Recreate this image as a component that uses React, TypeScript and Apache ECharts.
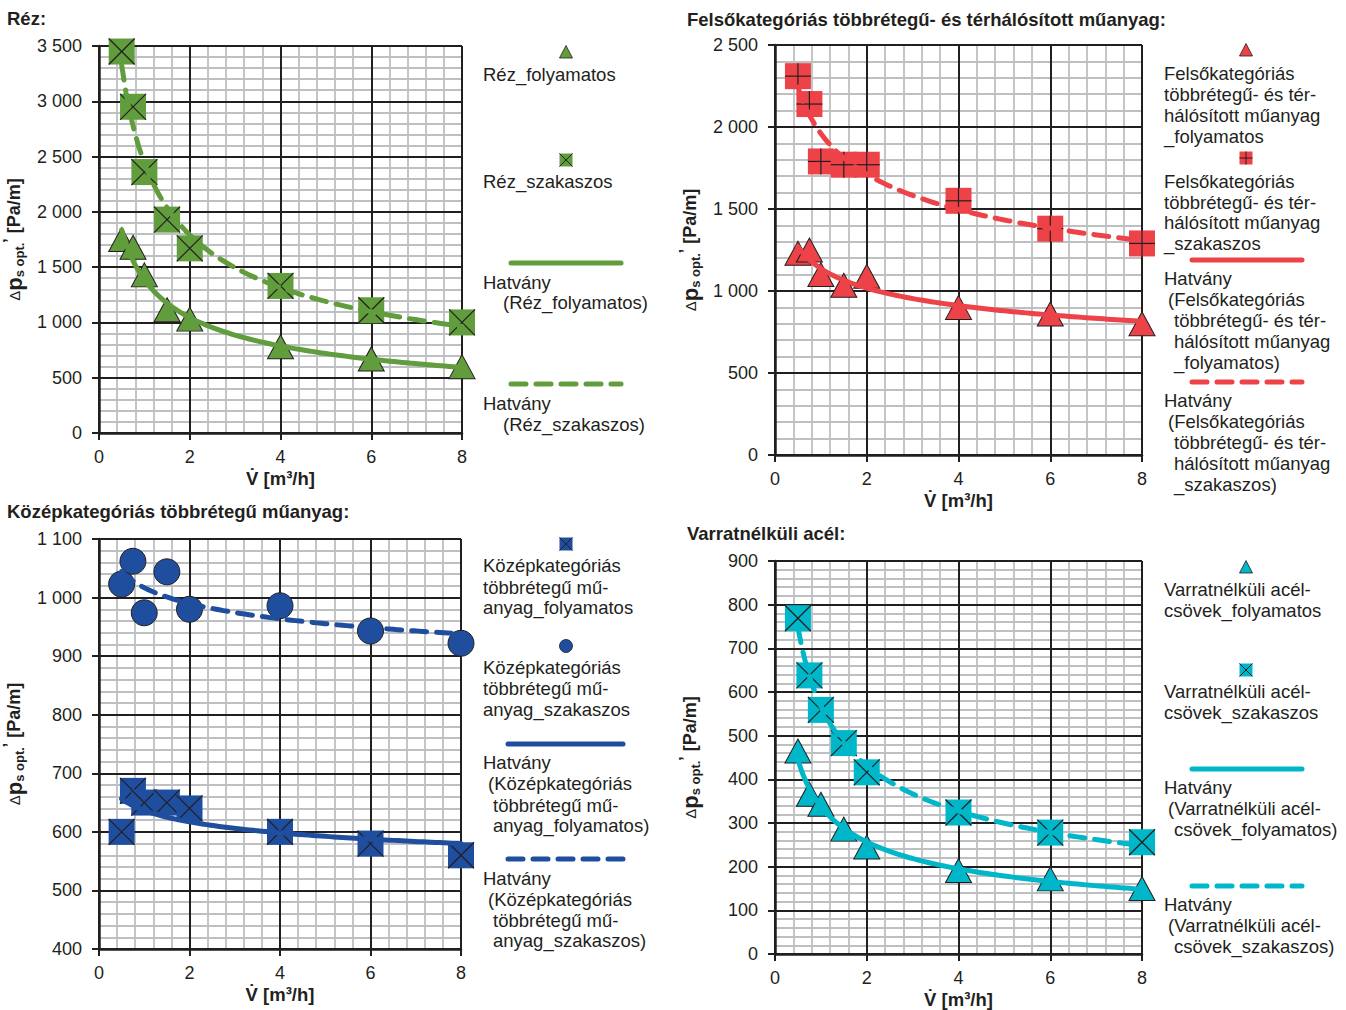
import React, { useEffect, useRef } from 'react';
import * as echarts from 'echarts';

// ---------- data ----------
const X_VALUES = [0.5, 0.75, 1, 1.5, 2, 4, 6, 8];

const rezFolyamatos = [1750, 1680, 1430, 1115, 1030, 780, 670, 600];
const rezSzakaszos = [3450, 2950, 2360, 1930, 1670, 1330, 1110, 1000];
const felsoFolyamatos = [1230, 1250, 1100, 1035, 1090, 900, 860, 800];
const felsoSzakaszos = [2310, 2140, 1790, 1770, 1770, 1550, 1380, 1290];
const kozepFolyamatos = [600, 670, 650, 650, 640, 600, 580, 560];
const kozepSzakaszos = [1023, 1062, 974, 1044, 980, 986, 943, 922];
const acelFolyamatos = [465, 366, 343, 286, 245, 191, 172, 150];
const acelSzakaszos = [769, 638, 559, 483, 416, 324, 278, 256];

const X_TICKS = [0, 2, 4, 6, 8];

// ---------- styles ----------
const DARK = '#231f20';
const MINOR = '#bdbfc1';
const GREEN = '#619c3d';
const RED = '#ee4249';
const BLUE = '#1f4e9f';
const CYAN = '#00b7ca';
const FONT = '"Liberation Sans", Arial, Helvetica, sans-serif';
const DASH = [15, 10];

// Excel-like power trendline (least squares in log-log space)
function powerFit(xs: number[], ys: number[]) {
  const lx = xs.map(Math.log);
  const ly = ys.map(Math.log);
  const mx = lx.reduce((a, b) => a + b, 0) / lx.length;
  const my = ly.reduce((a, b) => a + b, 0) / ly.length;
  let sxy = 0, sxx = 0;
  for (let i = 0; i < lx.length; i++) {
    sxy += (lx[i] - mx) * (ly[i] - my);
    sxx += (lx[i] - mx) * (lx[i] - mx);
  }
  const b = sxy / sxx;
  const a = Math.exp(my - b * mx);
  return { a, b };
}
function trendline(xs: number[], ys: number[]) {
  const { a, b } = powerFit(xs, ys);
  const x0 = xs[0], x1 = xs[xs.length - 1];
  const n = 80;
  const pts: number[][] = [];
  for (let i = 0; i <= n; i++) {
    const x = x0 + ((x1 - x0) * i) / n;
    pts.push([x, a * Math.pow(x, b)]);
  }
  return pts;
}

type Marker = 'triangle' | 'xsquare' | 'plussquare' | 'circle';

interface LegendEntry {
  kind: Marker | 'solid' | 'dashed';
  at: number[]; // icon centre or [x1, x2, y] for lines
  lines: [string, number, number][];
}

interface Panel {
  title: string;
  titlePos: number[];
  color: string;
  grid: { left: number; top: number; width: number; height: number };
  yMin: number;
  yMax: number;
  yInt: number;
  fol: number[];
  sz: number[];
  folName: string;
  szName: string;
  folMarker: Marker;
  szMarker: Marker;
  legend: LegendEntry[];
}

const PANELS: Panel[] = [
  {
    title: 'Réz:',
    titlePos: [7, 18],
    color: GREEN,
    grid: { left: 95, top: 46, width: 367, height: 387 },
    yMin: 0, yMax: 3500, yInt: 500,
    fol: rezFolyamatos, sz: rezSzakaszos,
    folName: 'Réz_folyamatos', szName: 'Réz_szakaszos',
    folMarker: 'triangle', szMarker: 'xsquare',
    legend: [
      { kind: 'triangle', at: [566, 52], lines: [['Réz_folyamatos', 483, 74]] },
      { kind: 'xsquare', at: [566, 160], lines: [['Réz_szakaszos', 483, 181]] },
      { kind: 'solid', at: [511, 621, 263], lines: [['Hatvány', 483, 282], ['(Réz_folyamatos)', 503, 302]] },
      { kind: 'dashed', at: [511, 621, 384], lines: [['Hatvány', 483, 403], ['(Réz_szakaszos)', 503, 424]] },
    ],
  },
  {
    title: 'Felsőkategóriás többrétegű- és térhálósított műanyag:',
    titlePos: [687, 19],
    color: RED,
    grid: { left: 775, top: 45, width: 367, height: 410 },
    yMin: 0, yMax: 2500, yInt: 500,
    fol: felsoFolyamatos, sz: felsoSzakaszos,
    folName: 'Felsőkategóriás többrétegű- és térhálósított műanyag_folyamatos',
    szName: 'Felsőkategóriás többrétegű- és térhálósított műanyag_szakaszos',
    folMarker: 'triangle', szMarker: 'plussquare',
    legend: [
      { kind: 'triangle', at: [1246, 50], lines: [
        ['Felsőkategóriás', 1164, 73], ['többrétegű- és tér-', 1164, 94], ['hálósított műanyag', 1164, 115], ['_folyamatos', 1164, 136]] },
      { kind: 'plussquare', at: [1246, 158], lines: [
        ['Felsőkategóriás', 1164, 181], ['többrétegű- és tér-', 1164, 202], ['hálósított műanyag', 1164, 222], ['_szakaszos', 1164, 243]] },
      { kind: 'solid', at: [1192, 1302, 260], lines: [
        ['Hatvány', 1164, 278], ['(Felsőkategóriás', 1168, 299], ['többrétegű- és tér-', 1174, 320], ['hálósított műanyag', 1174, 341], ['_folyamatos)', 1174, 362]] },
      { kind: 'dashed', at: [1192, 1302, 382], lines: [
        ['Hatvány', 1164, 400], ['(Felsőkategóriás', 1168, 421], ['többrétegű- és tér-', 1174, 442], ['hálósított műanyag', 1174, 463], ['_szakaszos)', 1174, 484]] },
    ],
  },
  {
    title: 'Középkategóriás többrétegű műanyag:',
    titlePos: [7, 511],
    color: BLUE,
    grid: { left: 95, top: 539, width: 366, height: 410 },
    yMin: 400, yMax: 1100, yInt: 100,
    fol: kozepFolyamatos, sz: kozepSzakaszos,
    folName: 'Középkategóriás többrétegű műanyag_folyamatos',
    szName: 'Középkategóriás többrétegű műanyag_szakaszos',
    folMarker: 'xsquare', szMarker: 'circle',
    legend: [
      { kind: 'xsquare', at: [566, 544], lines: [
        ['Középkategóriás', 483, 565], ['többrétegű mű-', 483, 587], ['anyag_folyamatos', 483, 607]] },
      { kind: 'circle', at: [566, 646], lines: [
        ['Középkategóriás', 483, 667], ['többrétegű mű-', 483, 688], ['anyag_szakaszos', 483, 709]] },
      { kind: 'solid', at: [508, 623, 744], lines: [
        ['Hatvány', 483, 762], ['(Középkategóriás', 488, 783], ['többrétegű mű-', 493, 805], ['anyag_folyamatos)', 493, 825]] },
      { kind: 'dashed', at: [508, 623, 859], lines: [
        ['Hatvány', 483, 878], ['(Középkategóriás', 488, 899], ['többrétegű mű-', 493, 920], ['anyag_szakaszos)', 493, 940]] },
    ],
  },
  {
    title: 'Varratnélküli acél:',
    titlePos: [687, 533],
    color: CYAN,
    grid: { left: 775, top: 561, width: 367, height: 394 },
    yMin: 0, yMax: 900, yInt: 100,
    fol: acelFolyamatos, sz: acelSzakaszos,
    folName: 'Varratnélküli acélcsövek_folyamatos',
    szName: 'Varratnélküli acélcsövek_szakaszos',
    folMarker: 'triangle', szMarker: 'xsquare',
    legend: [
      { kind: 'triangle', at: [1246, 567], lines: [['Varratnélküli acél-', 1164, 589], ['csövek_folyamatos', 1164, 610]] },
      { kind: 'xsquare', at: [1246, 670], lines: [['Varratnélküli acél-', 1164, 691], ['csövek_szakaszos', 1164, 712]] },
      { kind: 'solid', at: [1192, 1302, 769], lines: [
        ['Hatvány', 1164, 787], ['(Varratnélküli acél-', 1168, 808], ['csövek_folyamatos)', 1174, 829]] },
      { kind: 'dashed', at: [1192, 1302, 886], lines: [
        ['Hatvány', 1164, 904], ['(Varratnélküli acél-', 1168, 925], ['csövek_szakaszos)', 1174, 946]] },
    ],
  },
];

function fmtY(v: number) {
  if (v >= 1000) return `${Math.floor(v / 1000)} ${String(v % 1000).padStart(3, '0')}`;
  return String(v);
}

function squareRender(kind: 'x' | 'plus', fill: string, size: number) {
  return (_params: any, api: any) => {
    const c = api.coord([api.value(0), api.value(1)]);
    const h = size / 2;
    const x0 = c[0] - h, y0 = c[1] - h, x1 = c[0] + h, y1 = c[1] + h;
    const segs = kind === 'x'
      ? [[x0, y0, x1, y1], [x1, y0, x0, y1]]
      : [[x0, c[1], x1, c[1]], [c[0], y0, c[0], y1]];
    return {
      type: 'group',
      children: [
        { type: 'rect', shape: { x: x0, y: y0, width: size, height: size }, style: { fill } },
        ...segs.map((s) => ({
          type: 'line',
          shape: { x1: s[0], y1: s[1], x2: s[2], y2: s[3] },
          style: { stroke: DARK, lineWidth: 1.2 },
        })),
      ],
    };
  };
}

function markerSeries(marker: Marker, name: string, color: string, vals: number[], axis: number) {
  const data = X_VALUES.map((x, i) => [x, vals[i]]);
  if (marker === 'xsquare' || marker === 'plussquare') {
    return {
      type: 'custom', name, xAxisIndex: axis, yAxisIndex: axis, z: 3, clip: false,
      renderItem: squareRender(marker === 'xsquare' ? 'x' : 'plus', color, 26),
      encode: { x: 0, y: 1 },
      data,
    };
  }
  return {
    type: 'scatter', name, xAxisIndex: axis, yAxisIndex: axis, z: 3, clip: false,
    symbol: marker, symbolSize: marker === 'circle' ? 26 : [26, 24],
    itemStyle: { color, borderColor: DARK, borderWidth: 1, opacity: 1 },
    data,
  };
}

function buildOption() {
  const grids: any[] = [];
  const xAxes: any[] = [];
  const yAxes: any[] = [];
  const series: any[] = [];
  const graphic: any[] = [];
  const n = PANELS.length;

  const labelStyle = { fontSize: 18, color: DARK, fontFamily: FONT };

  PANELS.forEach((p, i) => {
    grids.push({ ...p.grid, containLabel: false });
    // minor grid axes (under)
    xAxes.push({
      type: 'value', gridIndex: i, min: 0, max: 8, interval: 2, position: 'bottom', z: 0,
      axisLine: { show: false }, axisTick: { show: false }, axisLabel: { show: false },
      splitLine: { show: false },
      minorTick: { show: false, splitNumber: 5 },
      minorSplitLine: { show: true, lineStyle: { color: MINOR, width: 1.8 } },
    });
    yAxes.push({
      type: 'value', gridIndex: i, min: p.yMin, max: p.yMax, interval: p.yInt, position: 'left', z: 0,
      axisLine: { show: false }, axisTick: { show: false }, axisLabel: { show: false },
      splitLine: { show: false },
      minorTick: { show: false, splitNumber: 5 },
      minorSplitLine: { show: true, lineStyle: { color: MINOR, width: 1.8 } },
    });
  });

  PANELS.forEach((p, i) => {
    const ax = n + i;
    xAxes.push({
      type: 'value', gridIndex: i, min: X_TICKS[0], max: X_TICKS[X_TICKS.length - 1], interval: 2,
      position: 'bottom', z: 1,
      axisLine: { show: true, onZero: false, lineStyle: { color: DARK, width: 2.5 } },
      axisTick: { show: true, inside: false, length: 7, lineStyle: { color: DARK, width: 2 } },
      axisLabel: { ...labelStyle, margin: 15 },
      splitLine: { show: true, lineStyle: { color: DARK, width: 2 } },
      name: 'V\u0307 [m³/h]',
      nameLocation: 'middle',
      nameGap: 36,
      nameTextStyle: { fontSize: 18.5, fontWeight: 'bold', color: DARK, fontFamily: FONT },
    });
    yAxes.push({
      type: 'value', gridIndex: i, min: p.yMin, max: p.yMax, interval: p.yInt,
      position: 'left', z: 1,
      axisLine: { show: true, onZero: false, lineStyle: { color: DARK, width: 2.5 } },
      axisTick: { show: true, inside: false, length: 7, lineStyle: { color: DARK, width: 2 } },
      axisLabel: { ...labelStyle, margin: 17, formatter: fmtY },
      splitLine: { show: true, lineStyle: { color: DARK, width: 2 } },
      name: '{d|Δ}{p|p}{s|s opt.}{q|’}{u| [Pa/m]}',
      nameLocation: 'middle',
      nameRotate: 90,
      nameGap: 72,
      nameTextStyle: {
        color: DARK, fontFamily: FONT,
        rich: {
          d: { fontSize: 15, fontFamily: FONT, color: DARK, lineHeight: 26 },
          p: { fontSize: 22, fontWeight: 'bold', fontFamily: FONT, color: DARK, lineHeight: 26 },
          s: { fontSize: 13, fontWeight: 'bold', fontFamily: FONT, color: DARK, lineHeight: 26, verticalAlign: 'bottom', padding: [0, 0, 1, 0] },
          q: { fontSize: 16, fontWeight: 'bold', fontFamily: FONT, color: DARK, lineHeight: 26, verticalAlign: 'top' },
          u: { fontSize: 18, fontWeight: 'bold', fontFamily: FONT, color: DARK, lineHeight: 26 },
        },
      },
    });

    series.push(markerSeries(p.folMarker, p.folName, p.color, p.fol, ax));
    series.push(markerSeries(p.szMarker, p.szName, p.color, p.sz, ax));
    series.push({
      type: 'line', name: `Hatvány (${p.folName})`, xAxisIndex: ax, yAxisIndex: ax, z: 4,
      showSymbol: false, symbol: 'none', clip: false,
      lineStyle: { color: p.color, width: 5, type: 'solid', cap: 'round', join: 'round' },
      data: trendline(X_VALUES, p.fol),
    });
    series.push({
      type: 'line', name: `Hatvány (${p.szName})`, xAxisIndex: ax, yAxisIndex: ax, z: 4,
      showSymbol: false, symbol: 'none', clip: false,
      lineStyle: { color: p.color, width: 5, type: DASH, cap: 'round', join: 'round' },
      data: trendline(X_VALUES, p.sz),
    });

    // title
    graphic.push({
      type: 'text', x: p.titlePos[0], y: p.titlePos[1], z: 10,
      style: {
        text: p.title, fill: DARK, fontSize: 18.5, fontWeight: 'bold', fontFamily: FONT,
        align: 'left', verticalAlign: 'middle',
      },
    });

    // legend
    p.legend.forEach((e) => {
      const [a, b, c] = e.at;
      if (e.kind === 'solid' || e.kind === 'dashed') {
        graphic.push({
          type: 'line', z: 10,
          shape: { x1: a, y1: c, x2: b, y2: c },
          style: {
            stroke: p.color, lineWidth: 5, lineCap: 'round',
            lineDash: e.kind === 'dashed' ? DASH : null,
          },
        });
      } else if (e.kind === 'triangle') {
        graphic.push({
          type: 'polygon', z: 10,
          shape: { points: [[a, b - 6.5], [a + 6.5, b + 6], [a - 6.5, b + 6]] },
          style: { fill: p.color, stroke: DARK, lineWidth: 0.8 },
        });
      } else if (e.kind === 'circle') {
        graphic.push({
          type: 'circle', z: 10, shape: { cx: a, cy: b, r: 6.5 },
          style: { fill: p.color, stroke: DARK, lineWidth: 0.8 },
        });
      } else {
        const h = 6.5;
        graphic.push({
          type: 'rect', z: 10, shape: { x: a - h, y: b - h, width: 2 * h, height: 2 * h },
          style: { fill: p.color },
        });
        const segs = e.kind === 'xsquare'
          ? [[a - h, b - h, a + h, b + h], [a + h, b - h, a - h, b + h]]
          : [[a - h, b, a + h, b], [a, b - h, a, b + h]];
        segs.forEach((s) =>
          graphic.push({
            type: 'line', z: 11, shape: { x1: s[0], y1: s[1], x2: s[2], y2: s[3] },
            style: { stroke: DARK, lineWidth: 1 },
          })
        );
      }
      e.lines.forEach(([t, x, y]) =>
        graphic.push({
          type: 'text', x, y, z: 10,
          style: { text: t, fill: DARK, fontSize: 18.5, fontFamily: FONT, align: 'left', verticalAlign: 'middle' },
        })
      );
    });
  });

  return {
    animation: false,
    backgroundColor: '#ffffff',
    grid: grids,
    xAxis: xAxes,
    yAxis: yAxes,
    series,
    graphic,
  };
}

export default function App() {
  const ref = useRef<HTMLDivElement>(null);
  useEffect(() => {
    if (!ref.current) return;
    const chart = echarts.init(ref.current, undefined, { renderer: 'svg' });
    chart.setOption(buildOption() as any);
    return () => chart.dispose();
  }, []);
  return (
    <div
      ref={ref}
      style={{ position: 'absolute', left: 0, top: 0, width: 1346, height: 1010, background: '#fff' }}
    />
  );
}
